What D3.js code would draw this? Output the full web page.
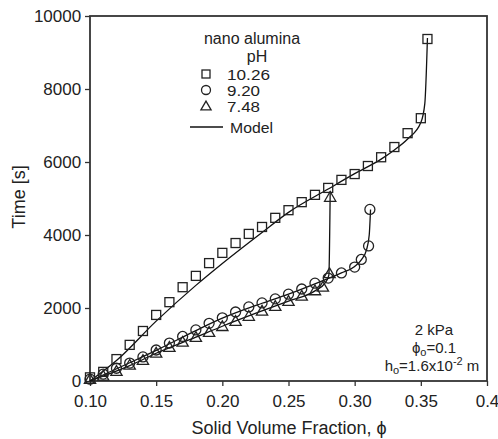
<!DOCTYPE html>
<html><head><meta charset="utf-8">
<script src="https://cdn.jsdelivr.net/npm/d3@7"></script>
<style>body{margin:0;background:#fff}text{font-family:"Liberation Sans",Arial,sans-serif;fill:#222}</style>
</head><body><svg id="c" width="498" height="439"></svg>
<script>
const xTicks=[0.10,0.15,0.20,0.25,0.30,0.35,0.4];
const xTickLabels=["0.10","0.15","0.20","0.25","0.30","0.35","0.4"];
const yTicks=[0,2000,4000,6000,8000,10000];

const sqX=[0.10,0.11,0.12,0.13,0.14,0.15,0.16,0.17,0.18,0.19,0.20,0.21,0.22,0.23,0.24,0.25,0.26,0.27,0.28,0.29,0.30,0.31,0.32,0.33,0.34,0.35,0.355];
const sqY=[100,250,600,990,1370,1810,2160,2570,2880,3230,3510,3780,4030,4220,4470,4680,4900,5100,5290,5510,5670,5890,6130,6410,6790,7200,9370];
const ciX=[0.10,0.11,0.12,0.13,0.14,0.15,0.16,0.17,0.18,0.19,0.20,0.21,0.22,0.23,0.24,0.25,0.26,0.27,0.28,0.29,0.30,0.305,0.3105,0.3115];
const ciY=[50,190,350,490,660,850,1040,1220,1400,1580,1730,1890,2030,2140,2250,2380,2520,2680,2820,2960,3120,3330,3700,4700];
const trX=[0.10,0.11,0.12,0.13,0.14,0.15,0.16,0.17,0.18,0.19,0.20,0.21,0.22,0.23,0.24,0.25,0.26,0.27,0.276,0.281,0.2815];
const trY=[50,140,270,440,570,770,930,1070,1200,1340,1500,1640,1780,1920,2050,2190,2330,2480,2580,2950,5040];

const mSqX=[0.10,0.12,0.15,0.18,0.20,0.23,0.25,0.28,0.30,0.32,0.33,0.34,0.35,0.353,0.355];
const mSqY=[0,560,1640,2620,3220,4070,4620,5260,5680,6080,6330,6630,7080,7600,9400];
const mCiX=[0.10,0.13,0.15,0.18,0.20,0.23,0.25,0.28,0.29,0.30,0.305,0.309,0.311,0.312];
const mCiY=[0,500,840,1380,1720,2130,2380,2810,2960,3140,3320,3600,4000,4700];
const mTrX=[0.10,0.13,0.15,0.18,0.20,0.23,0.25,0.27,0.278,0.2805,0.2815];
const mTrY=[0,420,760,1200,1500,1920,2190,2470,2700,2900,5200];

const legendLabels=["10.26","9.20","7.48","Model"];

const svg=d3.select("#c");
const L=90,R=487,T=16,B=381;
const x=d3.scaleLinear().domain([0.1,0.4]).range([L,R]);
const y=d3.scaleLinear().domain([0,10000]).range([B,T]);

const ax=svg.append("g").attr("transform",`translate(0,${B})`)
 .call(d3.axisBottom(x).tickValues(xTicks).tickFormat((d,i)=>xTickLabels[i]).tickSize(5).tickSizeOuter(0));
const ay=svg.append("g").attr("transform",`translate(${L},0)`)
 .call(d3.axisLeft(y).tickValues(yTicks).tickFormat(d3.format("d")).tickSize(5).tickSizeOuter(0));
[ax,ay].forEach(g=>{g.select(".domain").remove();g.selectAll("line").attr("stroke","#333").attr("stroke-width",1.3);
 g.selectAll("text").attr("font-size",17).attr("fill","#222");});
ax.selectAll("text").attr("dy","1.05em");
ay.selectAll("text").attr("dx","-0.05em");
svg.append("rect").attr("x",L).attr("y",T).attr("width",R-L).attr("height",B-T).attr("fill","none").attr("stroke","#333").attr("stroke-width",1.8);

svg.append("text").attr("x",289).attr("y",434).attr("text-anchor","middle").attr("font-size",18).text("Solid Volume Fraction, \u03d5");
svg.append("text").attr("transform",`translate(25,197) rotate(-90)`).attr("text-anchor","middle").attr("font-size",18).text("Time [s]");

const line=d3.line().x((d)=>x(d[0])).y(d=>y(d[1])).curve(d3.curveMonotoneX);
[[mSqX,mSqY],[mCiX,mCiY],[mTrX,mTrY]].forEach(([xs,ys])=>{
 svg.append("path").attr("d",line(xs.map((v,i)=>[v,ys[i]]))).attr("fill","none").attr("stroke","#111").attr("stroke-width",1.3);
});

const g=svg.append("g").attr("fill","none").attr("stroke","#222").attr("stroke-width",1.3);
sqX.forEach((v,i)=>g.append("rect").attr("x",x(v)-4.5).attr("y",y(sqY[i])-4.5).attr("width",9).attr("height",9));
ciX.forEach((v,i)=>g.append("circle").attr("cx",x(v)).attr("cy",y(ciY[i])).attr("r",5));
const tri=d3.symbol().type(d3.symbolTriangle).size(55);
trX.forEach((v,i)=>g.append("path").attr("d",tri()).attr("transform",`translate(${x(v)},${y(trY[i])+1})`));

// legend
const lg=svg.append("g");
lg.append("text").attr("x",252).attr("y",44).attr("text-anchor","middle").attr("font-size",16).text("nano alumina");
lg.append("text").attr("x",257).attr("y",62).attr("text-anchor","middle").attr("font-size",16).text("pH");
const lgs=svg.append("g").attr("fill","none").attr("stroke","#222").attr("stroke-width",1.3);
lgs.append("rect").attr("x",202).attr("y",70).attr("width",8).attr("height",8);
lgs.append("circle").attr("cx",206).attr("cy",90).attr("r",4.5);
lgs.append("path").attr("d",d3.symbol().type(d3.symbolTriangle).size(45)()).attr("transform","translate(206,107)");
lgs.append("line").attr("x1",190).attr("x2",223).attr("y1",127).attr("y2",127).attr("stroke","#111");
const lens=[43,33,33,43];
[74,90,106,127].forEach((yy,i)=>lg.append("text").attr("x",i==3?230:227).attr("y",yy+5.5).attr("font-size",14)
  .attr("textLength",lens[i]).attr("lengthAdjust","spacingAndGlyphs").text(legendLabels[i]));

// annotation
const an=svg.append("g");
an.append("text").attr("x",434).attr("y",335).attr("text-anchor","middle").attr("font-size",15).text("2 kPa");
const t2=an.append("text").attr("x",434).attr("y",353).attr("text-anchor","middle").attr("font-size",15);
t2.append("tspan").text("\u03d5");t2.append("tspan").attr("font-size",11).attr("dy",3).text("o");t2.append("tspan").attr("dy",-3).text("=0.1");
const t3=an.append("text").attr("x",432).attr("y",371).attr("text-anchor","middle").attr("font-size",15);
t3.append("tspan").text("h");t3.append("tspan").attr("font-size",11).attr("dy",3).text("o");
t3.append("tspan").attr("dy",-3).text("=1.6x10");t3.append("tspan").attr("font-size",11).attr("dy",-6).text("-2");
t3.append("tspan").attr("dy",6).text(" m");
</script></body></html>
